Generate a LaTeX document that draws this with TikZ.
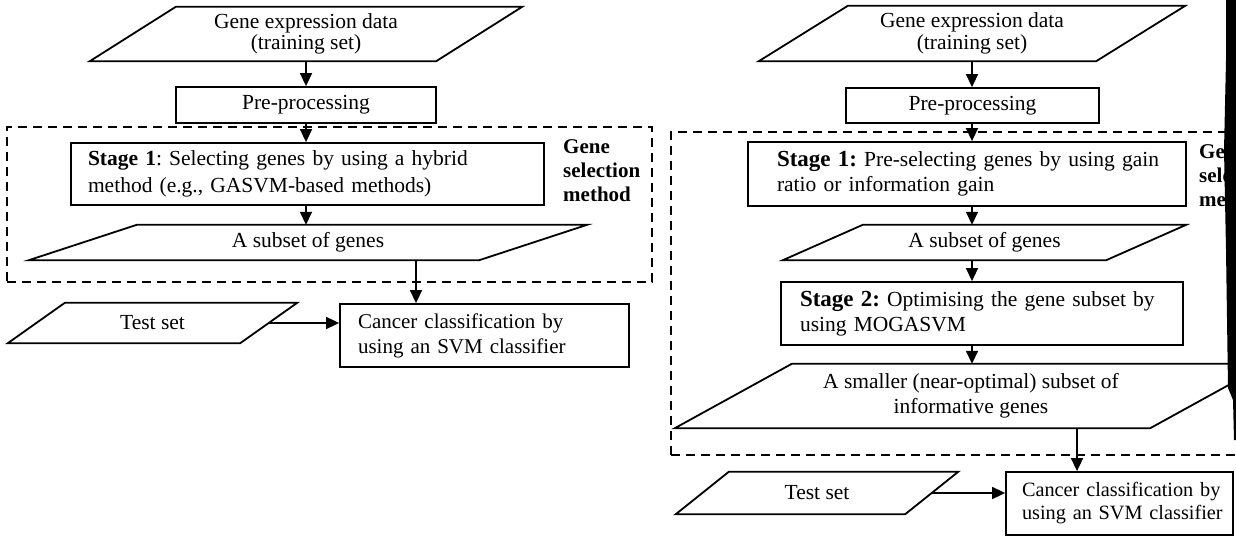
\documentclass[tikz,border=0pt]{standalone}
\usepackage{fontspec}
\setmainfont{Liberation Serif}
\usetikzlibrary{arrows.meta,calc}
\newcommand{\paraoutline}[2]{\draw[ln] ([xshift=#2pt]#1.north west) -- (#1.north east) -- ([xshift=-#2pt]#1.south east) -- (#1.south west) -- cycle;}
\begin{document}
\frenchspacing
\begin{tikzpicture}[x=1pt,y=-1pt,
  ln/.style={line width=1.8pt, line join=miter},
  every node/.style={font=\fontsize{21.5}{25}\selectfont\frenchspacing, inner sep=0pt},
  box/.style={draw, ln, rectangle, align=left},
  para/.style={rectangle, align=center},
  arr/.style={line width=1.6pt, -{Triangle[length=13pt,width=12pt]}},
  grp/.style={draw, line width=1.6pt, dash pattern=on 9pt off 6pt, rectangle},
  lbl/.style={font=\fontsize{21}{24}\selectfont\bfseries, align=left, anchor=west},
  cls/.style={font=\fontsize{21}{25}\selectfont\frenchspacing}]
\useasboundingbox (0,0) rectangle (1236,537);
\clip (0,0) rectangle (1236,537);
\fill[white] (0,0) rectangle (1236,537);

% ---------- left diagram ----------
\node[grp, minimum width=645pt, minimum height=155pt] (grpA) at (329.5,204.5) {};
\node[para, minimum width=432pt, minimum height=54pt, font=\fontsize{21.5}{21.5}\selectfont] (gA) at (306,34) {Gene expression data\\(training set)};
\node[box, align=center, minimum width=260pt, minimum height=36pt] (pA) at (306,105) {Pre-processing};
\node[box, text width=439pt, inner xsep=17pt, minimum height=62pt, font=\fontsize{21.5}{26.5}\selectfont\frenchspacing] (s1A) at (307.5,174) {\mbox{\textbf{Stage 1}: Selecting genes by using a hybrid}\\\mbox{method (e.g., GASVM-based methods)}};
\node[lbl] (gsA) at (563,171) {Gene\\selection\\method};
\node[para, minimum width=558pt, minimum height=35pt] (subA) at (308,242.5) {A subset of genes};
\node[para, minimum width=289pt, minimum height=40pt] (testA) at (152.5,323) {Test set};
\node[box, cls, text width=253pt, inner xsep=18pt, minimum height=63pt] (cA) at (484.5,335.5) {\mbox{Cancer classification by}\\\mbox{using an SVM classifier}};
\paraoutline{gA}{86}
\paraoutline{subA}{108}
\paraoutline{testA}{57}
\coordinate (xA) at (416,0);
\draw[arr] (gA.south) -- (pA.north);
\draw[arr] (pA.south) -- (pA.south |- s1A.north);
\draw[arr] (s1A.south -| pA.south) -- (pA.south |- subA.north);
\draw[arr] (subA.south -| xA) -- (cA.north -| xA);
\draw[arr] ([xshift=-28.5pt]testA.east) -- (testA.east -| cA.west);

% ---------- right diagram ----------
\node[grp, minimum width=589pt, minimum height=323pt] (grpB) at (965.5,293.5) {};
\node[para, minimum width=426pt, minimum height=55pt, font=\fontsize{21.5}{21.5}\selectfont] (gB) at (972,33.5) {Gene expression data\\(training set)};
\node[box, align=center, minimum width=253pt, minimum height=35pt] (pB) at (972.5,105.5) {Pre-processing};
\node[box, text width=380pt, inner xsep=29pt, minimum height=64pt] (s1B) at (967,174) {\mbox{{\fontsize{23}{25}\selectfont\textbf{Stage 1:}} Pre-selecting genes by using gain}\\\mbox{ratio or information gain}};
\node[lbl] (gsB) at (1199,176) {Gene\\selection\\method};
\node[para, minimum width=403pt, minimum height=35pt] (subB) at (984.5,242.5) {A subset of genes};
\node[box, text width=364pt, inner xsep=19pt, minimum height=63pt] (s2B) at (982,313.5) {\mbox{{\fontsize{23}{25}\selectfont\textbf{Stage 2:}} Optimising the gene subset by}\\\mbox{using MOGASVM}};
\node[para, minimum width=592pt, minimum height=64pt] (bigB) at (971,396) {A smaller (near-optimal) subset of\\informative genes};
\node[para, minimum width=282pt, minimum height=42pt] (testB) at (817,493) {Test set};
\node[box, text width=195pt, inner xsep=16pt, minimum height=63pt, font=\fontsize{20.3}{23}\selectfont\frenchspacing] (cB) at (1119.5,503.5) {\mbox{Cancer classification by}\\\mbox{using an SVM classifier}};
\paraoutline{gB}{89}
\paraoutline{subB}{80}
\paraoutline{bigB}{117}
\paraoutline{testB}{53}
\coordinate (xB) at (972,0);
\coordinate (xB2) at (1077,0);
\draw[arr] (gB.south -| xB) -- (pB.north -| xB);
\draw[arr] (pB.south -| xB) -- (s1B.north -| xB);
\draw[arr] (s1B.south -| xB) -- (subB.north -| xB);
\draw[arr] (subB.south -| xB) -- (s2B.north -| xB);
\draw[arr] (s2B.south -| xB) -- (bigB.north -| xB);
\draw[arr] (bigB.south -| xB2) -- (cB.north -| xB2);
\draw[arr] ([xshift=-26.5pt]testB.east) -- (testB.east -| cB.west);

% scanned dark edge on the right
\fill[black] (1226,0) -- (1236,0) -- (1236,440) -- (1234,440) -- (1233,400) -- (1228,388) -- (1226,250) -- (1224,150) -- (1226,60) -- cycle;
\end{tikzpicture}
\end{document}
